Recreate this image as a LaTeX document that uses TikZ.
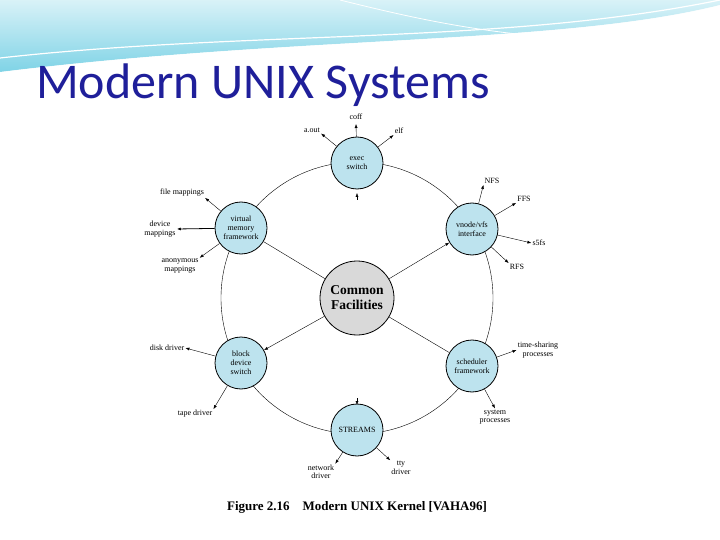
\documentclass[tikz,border=0pt]{standalone}
\usepackage{fontspec}
\setmainfont{Liberation Serif}
\newfontfamily\titlefont{Carlito}
\usetikzlibrary{arrows.meta}
\definecolor{nodeblue}{HTML}{BDE3EE}
\definecolor{titleblue}{HTML}{1F1F9A}
\definecolor{wave}{HTML}{7FD3E6}
\begin{document}
\begin{tikzpicture}[x=1pt,y=-1pt,
  sub/.style={circle,draw,thick,fill=nodeblue,minimum size=52pt,inner sep=0pt,align=center,font=\fontsize{8}{9}\selectfont},
  core/.style={circle,draw,thick,fill=black!15,minimum size=74pt,inner sep=0pt,align=center,font=\fontsize{13.5}{15}\selectfont\bfseries},
  lbl/.style={inner sep=1pt,align=center,font=\fontsize{8}{8.5}\selectfont},
  arr/.style={-{Latex[length=4pt,width=3pt]},thin},
  ln/.style={thin}]
\useasboundingbox (0,0) rectangle (720,540);
\fill[white] (0,0) rectangle (720,540);
% top decoration
\shade[top color=wave!30,bottom color=wave] (0,0) -- (720,0) -- (720,5) .. controls (560,45) and (300,35) .. (0,72) -- cycle;
\fill[white,opacity=0.6] (0,72) .. controls (300,35) and (560,45) .. (720,5) -- (720,12) .. controls (560,55) and (300,45) .. (0,78) -- cycle;
\draw[white,line width=1.2pt] (0,58) .. controls (250,30) and (500,45) .. (720,0);
\draw[white,line width=0.8pt] (340,0) .. controls (420,20) and (480,32) .. (560,38);
\node[anchor=west,text=titleblue,font=\titlefont\fontsize{50}{52}\selectfont,inner sep=0pt] (title) at (36,85) {Modern UNIX Systems};
% ring
\coordinate (c) at (357,298);
\draw[ln] (c) circle[radius=136];
\node[core] (cf) at (c) {Common\\Facilities};
\node[sub] (exec) at (357,163) {exec\\switch};
\node[sub] (vm) at (241,228) {virtual\\memory\\framework};
\node[sub] (vn) at (472,229) {vnode/vfs\\interface};
\node[sub] (bd) at (241,363) {block\\device\\switch};
\node[sub] (sch) at (472,366) {scheduler\\framework};
\node[sub] (st) at (357,430) {STREAMS};
% spokes
\draw[ln] (cf) -- (vm);
\draw[ln] (cf) -- (sch);
\draw[arr] (cf) -- (vn);
\draw[arr] (cf) -- (bd);
\coordinate (e1) at (357,200); \coordinate (e2) at (357,193);
\draw[arr] (e1) -- (e2);
\coordinate (s1) at (357,398); \coordinate (s2) at (357,405);
\draw[arr] (s1) -- (s2);
% leaves
\node[lbl] (coff) at (356,117) {coff};
\node[lbl] (aout) at (312,130) {a.out};
\node[lbl] (elf) at (399,131) {elf};
\coordinate (coffpt) at (356,124);
\draw[arr] (exec) -- (coffpt);
\draw[arr] (exec) -- (aout.south east);
\draw[arr] (exec) -- (elf.south west);
\node[lbl] (fm) at (182,193) {file mappings};
\node[lbl] (dm) at (160,229) {device\\mappings};
\node[lbl] (am) at (180,266) {anonymous\\mappings};
\draw[arr] (vm) -- (fm.south east);
\draw[-{Latex[length=4pt,width=3pt]},thick] (vm) -- (dm.east);
\draw[arr] (vm) -- (am.north east);
\node[lbl] (nfs) at (492,181) {NFS};
\node[lbl] (ffs) at (524,199) {FFS};
\node[lbl] (s5) at (539,243) {s5fs};
\node[lbl] (rfs) at (517,267) {RFS};
\draw[arr] (vn) -- (nfs.south west);
\draw[arr] (vn) -- (ffs.south west);
\draw[arr] (vn) -- (s5.west);
\draw[arr] (vn) -- (rfs.north west);
\node[lbl] (dd) at (167,348) {disk driver};
\node[lbl] (td) at (195,414) {tape driver};
\draw[arr] (bd) -- (dd.east);
\draw[arr] (bd) -- (td.north east);
\node[lbl] (ts) at (538,350) {time-sharing\\processes};
\node[lbl] (sp) at (495,417) {system\\processes};
\draw[arr] (sch) -- (ts.west);
\draw[arr] (sch) -- (sp.north);
\node[lbl] (nd) at (321,472) {network\\driver};
\node[lbl] (tty) at (401,468) {tty\\driver};
\draw[arr] (st) -- (nd.north east);
\draw[arr] (st) -- (tty.north west);
\node[font=\fontsize{13}{15}\selectfont\bfseries] (cap) at (357,507) {Figure 2.16\quad Modern UNIX Kernel [VAHA96]};
\end{tikzpicture}
\end{document}
